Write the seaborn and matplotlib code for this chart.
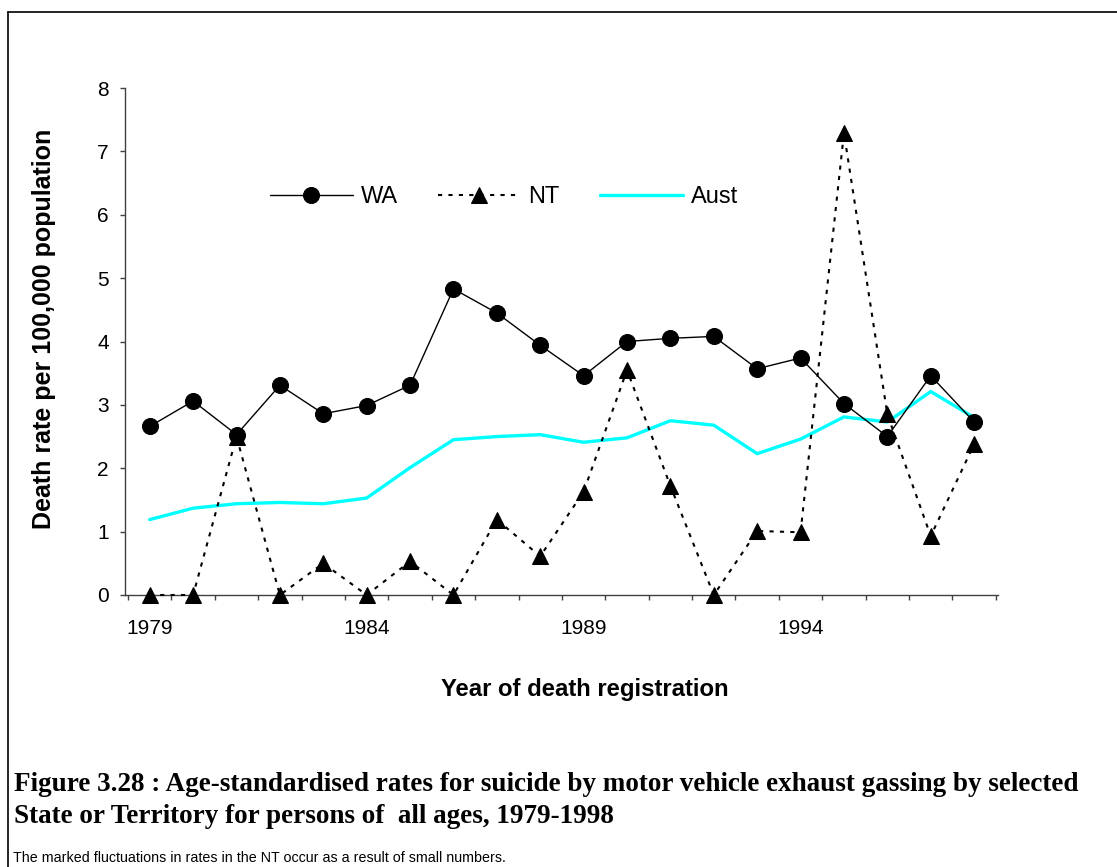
import numpy as np
import pandas as pd
import matplotlib
matplotlib.use("Agg")
import matplotlib.pyplot as plt
from matplotlib.lines import Line2D
from matplotlib.ticker import FixedLocator
import seaborn as sns

# Data
years = list(range(1979, 1999))
wa = [2.66, 3.06, 2.53, 3.31, 2.86, 2.99, 3.31, 4.83, 4.45, 3.94,
      3.46, 4.00, 4.05, 4.08, 3.57, 3.74, 3.02, 2.50, 3.46, 2.73]
nt = [0.00, 0.00, 2.50, 0.00, 0.50, 0.00, 0.53, 0.00, 1.19, 0.61,
      1.63, 3.55, 1.72, 0.00, 1.01, 0.99, 7.29, 2.85, 0.93, 2.38]
aust = [1.19, 1.37, 1.44, 1.46, 1.44, 1.53, 2.01, 2.45, 2.50, 2.53,
        2.41, 2.48, 2.75, 2.68, 2.23, 2.46, 2.81, 2.73, 3.21, 2.80]
year_labels = [1979, 1984, 1989, 1994]

caption_1 = "Figure 3.28 : Age-standardised rates for suicide by motor vehicle exhaust gassing by selected"
caption_2 = "State or Territory for persons of  all ages, 1979-1998"
footnote = "The marked fluctuations in rates in the NT occur as a result of small numbers."

sns.set_style("ticks")
plt.rcParams["font.family"] = ["Liberation Sans", "DejaVu Sans"]
plt.rcParams["text.color"] = "black"
plt.rcParams["axes.labelcolor"] = "black"
plt.rcParams["xtick.color"] = "black"
plt.rcParams["ytick.color"] = "black"

W, H = 1117, 867
fig = plt.figure(figsize=(W / 100, H / 100), dpi=100)
ax = fig.add_axes([125 / W, 1 - 595 / H, 873 / W, 507 / H])

sns.lineplot(x=years, y=aust, color="#00FFFF", lw=2.4, label="Aust", ax=ax, zorder=2)
sns.lineplot(x=years, y=nt, color="black", lw=1.5, linestyle=(0, (2, 3)),
             marker="^", markersize=11.5, markeredgecolor="black",
             label="NT", ax=ax, zorder=3, clip_on=False)
sns.lineplot(x=years, y=wa, color="black", lw=1.0, marker="o", markersize=11.5,
             markeredgecolor="black", label="WA", ax=ax, zorder=4, clip_on=False)

ax.set_xlim(1978.43, 1998.55)
ax.set_ylim(0, 8)
ax.set_yticks(range(0, 9))
ax.set_xticks(year_labels)
ax.set_xticklabels([str(y) for y in year_labels])
ax.xaxis.set_minor_locator(FixedLocator(np.arange(1978.5, 1999, 1)))
ax.tick_params(axis="x", which="major", length=0, pad=17.5, labelsize=15)
ax.tick_params(axis="x", which="minor", length=3.6, width=1, direction="out", color="#404040")
ax.tick_params(axis="y", length=3.6, width=1, direction="out", pad=8, labelsize=15, color="#404040")

sns.despine(ax=ax)
for side in ["left", "bottom"]:
    ax.spines[side].set_color("#404040")
    ax.spines[side].set_linewidth(1)

ax.set_ylabel("Death rate per 100,000 population", fontsize=18, fontweight="bold")
ax.yaxis.set_label_coords(-0.079, 0.525)
ax.set_xlabel("Year of death registration", fontsize=17.2, fontweight="bold")
ax.xaxis.set_label_coords(0.527, -0.163)

handles, labels = ax.get_legend_handles_labels()
order = [labels.index(k) for k in ["WA", "NT", "Aust"]]
ax.legend([handles[i] for i in order], [labels[i] for i in order],
          ncol=3, loc="center left", bbox_to_anchor=(0.166, 0.785),
          frameon=False, handlelength=3.5, handletextpad=0.34,
          columnspacing=1.7, fontsize=17, borderpad=0, borderaxespad=0)

# outer frame lines (top and left)
fig.add_artist(Line2D([8 / W, 1], [1 - 12 / H, 1 - 12 / H], transform=fig.transFigure,
                      color="black", lw=1.2))
fig.add_artist(Line2D([8 / W, 8 / W], [1 - 12 / H, 0], transform=fig.transFigure,
                      color="black", lw=1.2))

fig.text(14 / W, 1 - 791 / H, caption_1, fontfamily="Liberation Serif",
         fontweight="bold", fontsize=19.5, va="baseline")
fig.text(14 / W, 1 - 823 / H, caption_2, fontfamily="Liberation Serif",
         fontweight="bold", fontsize=19.5, va="baseline")
fig.text(13 / W, 1 - 862 / H, footnote, fontsize=10.3, va="baseline")

fig.savefig("out.png", dpi=100)
